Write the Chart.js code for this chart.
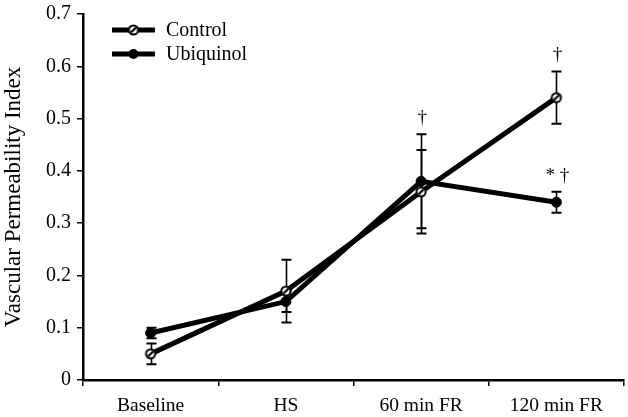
<!DOCTYPE html>
<html>
<head>
<meta charset="utf-8">
<script src="https://cdn.jsdelivr.net/npm/chart.js@4"></script>
<style>
html,body{margin:0;padding:0;background:#fff;}
#wrap{width:628px;height:417px;position:relative;}
</style>
</head>
<body>
<div id="wrap"><canvas id="c" width="628" height="417"></canvas></div>
<script>
const categories = ['Baseline', 'HS', '60 min FR', '120 min FR'];
const controlMean = [0.05, 0.17, 0.36, 0.54];
const controlErr = [0.02, 0.06, 0.08, 0.05];
const ubiquinolMean = [0.09, 0.15, 0.38, 0.34];
const ubiquinolErr = [0.01, 0.02, 0.09, 0.02];
const controlMarks = ['', '', '', '\u2020'];
const ubiquinolMarks = ['', '', '\u2020', '* \u2020'];
const yTicks = [0, 0.1, 0.2, 0.3, 0.4, 0.5, 0.6, 0.7];
const seriesNames = ['Control', 'Ubiquinol'];

const FONT = '"Liberation Serif", "Times New Roman", serif';

function controlMarker(r) {
  const s = Math.ceil(r * 2 + 4);
  const cv = document.createElement('canvas');
  cv.width = s; cv.height = s;
  const g = cv.getContext('2d');
  const c = s / 2;
  g.beginPath(); g.arc(c, c, r, 0, Math.PI * 2);
  g.fillStyle = '#fff'; g.fill();
  g.lineWidth = 2; g.strokeStyle = '#000'; g.stroke();
  g.beginPath();
  g.moveTo(c - r * 0.55, c + r * 0.55);
  g.lineTo(c + r * 0.55, c - r * 0.55);
  g.lineWidth = 2.2; g.stroke();
  return cv;
}
const ctrlImg = controlMarker(4.6);

const errPlugin = {
  id: 'errbars',
  beforeDatasetsDraw(chart) {
    const ctx = chart.ctx;
    const xs = chart.scales.x, ys = chart.scales.y;
    const sets = [[controlMean, controlErr], [ubiquinolMean, ubiquinolErr]];
    ctx.save();
    ctx.strokeStyle = '#000';
    sets.forEach(([m, e]) => {
      m.forEach((v, i) => {
        const x = Math.round(xs.getPixelForValue(i)) + 0.5;
        const yt = ys.getPixelForValue(v + e[i]);
        const yb = ys.getPixelForValue(v - e[i]);
        ctx.lineWidth = 1.6;
        ctx.beginPath(); ctx.moveTo(x, yt); ctx.lineTo(x, yb); ctx.stroke();
        ctx.lineWidth = 2;
        ctx.beginPath();
        ctx.moveTo(x - 5, yt); ctx.lineTo(x + 5, yt);
        ctx.moveTo(x - 5, yb); ctx.lineTo(x + 5, yb);
        ctx.stroke();
      });
    });
    ctx.restore();
  },
  afterDraw(chart) {
    const ctx = chart.ctx;
    const xs = chart.scales.x, ys = chart.scales.y;
    ctx.save();
    ctx.fillStyle = '#000';
    ctx.font = '19px ' + FONT;
    ctx.textAlign = 'center';
    ctx.textBaseline = 'middle';
    const sets = [[controlMean, controlErr, controlMarks], [ubiquinolMean, ubiquinolErr, ubiquinolMarks]];
    sets.forEach(([m, e, marks]) => {
      marks.forEach((t, i) => {
        if (!t) return;
        const x = xs.getPixelForValue(i);
        const y = ys.getPixelForValue(m[i] + e[i]);
        ctx.fillText(t, x + 1, y - 16);
      });
    });
    const items = [[seriesNames[0], 'c'], [seriesNames[1], 'u']];
    items.forEach(([name, type], k) => {
      const y = 30 + k * 24;
      ctx.lineWidth = 5; ctx.strokeStyle = '#000';
      ctx.beginPath(); ctx.moveTo(112, y); ctx.lineTo(155, y); ctx.stroke();
      if (type === 'c') {
        ctx.drawImage(ctrlImg, 133.5 - ctrlImg.width / 2, y - ctrlImg.height / 2);
      } else {
        ctx.beginPath(); ctx.arc(133.5, y, 5, 0, Math.PI * 2); ctx.fill();
      }
      ctx.textAlign = 'left';
      ctx.font = '20px ' + FONT;
      ctx.fillText(name, 166, y + 1);
    });
    ctx.restore();
  }
};

new Chart(document.getElementById('c'), {
  type: 'line',
  data: {
    labels: categories,
    datasets: [
      {
        label: seriesNames[1], data: ubiquinolMean,
        borderColor: '#000', backgroundColor: '#000', borderWidth: 5,
        pointStyle: 'circle', pointRadius: 5, pointBackgroundColor: '#000',
        pointBorderColor: '#000', pointBorderWidth: 1, tension: 0
      },
      {
        label: seriesNames[0], data: controlMean,
        borderColor: '#000', backgroundColor: '#fff', borderWidth: 5,
        pointStyle: ctrlImg, pointRadius: 5, tension: 0
      }
    ]
  },
  options: {
    responsive: false,
    animation: false,
    devicePixelRatio: 1,
    layout: { autoPadding: false, padding: { top: 14, right: 4, left: 0, bottom: 0 } },
    plugins: { legend: { display: false }, tooltip: { enabled: false } },
    scales: {
      x: {
        type: 'category',
        offset: true,
        grid: { offset: true, drawOnChartArea: false, tickLength: 6, color: '#000', lineWidth: 1.5 },
        border: { color: '#000', width: 2.5 },
        ticks: { color: '#000', font: { family: FONT, size: 19.5 }, padding: 8, maxRotation: 0, autoSkip: false },
        afterFit(s) { s.height = 37; s.paddingLeft = 0; s.paddingRight = 0; }
      },
      y: {
        min: 0, max: 0.7,
        afterBuildTicks(s) { s.ticks = yTicks.map(v => ({ value: v })); },
        grid: { drawOnChartArea: false, tickLength: 6, color: '#000', lineWidth: 1.5 },
        border: { color: '#000', width: 2.5 },
        ticks: { color: '#000', font: { family: FONT, size: 20 }, padding: 6,
                 callback: v => (v === 0 ? '0' : v.toFixed(1)) },
        title: { display: true, text: 'Vascular Permeability Index', color: '#000',
                 font: { family: FONT, size: 23 }, padding: { top: 0, bottom: 0 } },
        afterFit(s) { s.width = 83; s.paddingTop = 0; s.paddingBottom = 0; }
      }
    }
  },
  plugins: [errPlugin]
});
</script>
</body>
</html>
